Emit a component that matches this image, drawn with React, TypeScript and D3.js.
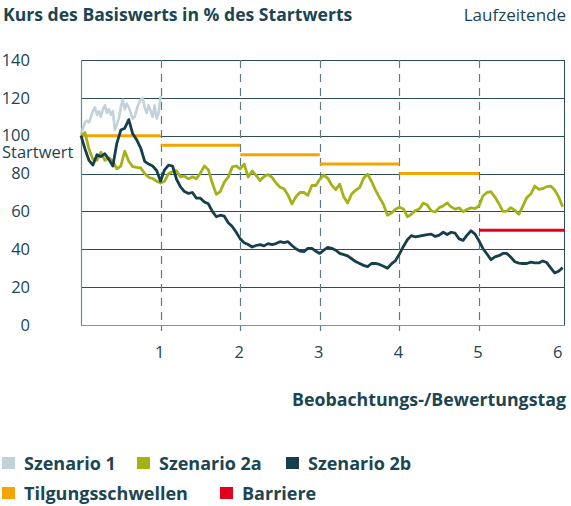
import * as d3 from "d3";

// Tage 0..6 (Beobachtungs-/Bewertungstage), Werte in % des Startwerts
const yTicks = [0, 20, 40, 60, 80, 100, 120, 140];
const xTicks = [1, 2, 3, 4, 5, 6];

// Szenario 1: Schritt 0.025, endet am 1. Beobachtungstag
const szenario1Step = 0.025;
const szenario1 = [
  101, 104, 107, 108, 107, 110, 113, 115, 111, 113, 110, 114, 116, 112, 114, 111, 113, 103, 106, 109,
  115, 119, 114, 117, 115, 112, 109, 110, 114, 117, 119, 120, 115, 112, 116, 113, 110, 116, 109, 112, 121,
];

// Szenario 2a / 2b: Schritt 0.05
const seriesStep = 0.05;
const szenario2a = [
  100, 101.7, 93, 87.5, 87, 91.3, 87, 88.3, 86.6, 82.5, 84, 91.8, 86.5, 83.7, 83.3, 83, 80, 78, 77.4, 76,
  75, 76, 80, 81, 81.5, 78.2, 78.6, 77.2, 78.3, 77.3, 80.2, 84, 82, 75, 69, 70.5, 75.5, 78.1, 83.5, 84,
  82.5, 85, 78.2, 81.4, 79, 76.3, 78.4, 79.5, 78, 75, 72.8, 72, 68.7, 64, 67.8, 70, 70, 68.5, 73.7, 73.7,
  77, 79.2, 77.5, 73.8, 71.5, 74.4, 67.7, 64.5, 69.2, 71.2, 72.6, 77.5, 79.7, 75.8, 71.3, 67.3, 63.7, 58, 59.2, 61.2,
  62.2, 61.3, 57.2, 58.5, 60.5, 61.3, 64.4, 63.4, 60.3, 59.7, 62, 62.9, 64.5, 62.4, 61.2, 61.9, 59.8, 61.1, 61.9, 61.5,
  63, 68.3, 70, 70.4, 67.6, 64.1, 60, 60.2, 62, 60.6, 58.5, 62.8, 67.3, 69.2, 73.4, 71.7, 72, 73.1, 73.4, 71.3,
  67.7, 62.5,
];
const szenario2b = [
  100, 93, 87, 84.5, 90, 89, 90.5, 87.5, 84, 96, 103, 104, 108.5, 101, 97.8, 93.5, 86.5, 85, 84, 81.6,
  76, 82, 84.5, 84, 77, 73, 70.5, 69.5, 70, 67, 67, 65, 64, 60, 57.2, 58, 57.5, 54, 52, 49,
  45.5, 43.5, 42.5, 41.2, 42, 42.5, 41.8, 43, 42.5, 43, 44, 43.5, 44, 42, 40.3, 39, 38.8, 40.5, 40.5, 39,
  37.8, 39.5, 41, 40.5, 39.5, 37.8, 37.2, 36.5, 35, 33.5, 32.5, 31.5, 30.8, 32.5, 32.5, 32, 31, 30, 32.3, 34,
  37.5, 41.5, 45, 47.2, 46.6, 47, 47.4, 47.8, 48, 46.8, 47.5, 49, 47.8, 49, 48.5, 45.5, 44.7, 47.5, 49.8, 48,
  44.5, 40.3, 37.5, 34.5, 36, 36.6, 37.8, 37.8, 35.8, 33.4, 32.7, 32.5, 32.5, 33.2, 32.8, 32.8, 33.8, 33, 30.2, 27.5,
  28.4, 30.3,
];

// Tilgungsschwellen je Beobachtungsperiode, Barriere in der letzten Periode
const tilgungStart = [0, 1, 2, 3, 4];
const tilgungLevel = [100, 95, 90, 85, 80];
const barriereStart = 5;
const barriereEnd = 6.08;
const barriereLevel = 50;

const legendRow1 = ["Szenario 1", "Szenario 2a", "Szenario 2b"];
const legendRow2 = ["Tilgungsschwellen", "Barriere"];

const C_TEXT = "#1c4552";
const C_S1 = "#c3d2d9";
const C_2A = "#a4b218";
const C_2B = "#173f4b";
const C_ORANGE = "#f5a400";
const C_RED = "#e2001a";
const FONT = "'Open Sans', 'Noto Sans', sans-serif";

const W = 571;
const H = 506;
const margin = { left: 81, right: 6, top: 60, bottom: 181 };

export default function App() {
  const x = d3.scaleLinear().domain([0, 6.08]).range([margin.left, W - margin.right]);
  const y = d3.scaleLinear().domain([0, 140]).range([H - margin.bottom, margin.top]);

  const line = d3
    .line<[number, number]>()
    .x((d) => x(d[0]))
    .y((d) => y(d[1]))
    .curve(d3.curveLinear);

  const toPts = (vals: number[], step: number): [number, number][] =>
    vals.map((v, i) => [i * step, v]);

  const x0 = x(0);
  const x1 = x.range()[1];
  const yTop = y(140);
  const yBot = y(0);

  const legendColors1 = [C_S1, C_2A, C_2B];
  const legendX1 = [2, 137, 286];
  const legendColors2 = [C_ORANGE, C_RED];
  const legendX2 = [2, 220];

  return (
    <svg
      width={W}
      height={H}
      style={{ position: "absolute", left: 0, top: 0, fontFamily: FONT }}
    >
      <text x={3} y={21} fill={C_TEXT} fontSize={17.6} fontWeight={700}>
        Kurs des Basiswerts in % des Startwerts
      </text>
      <text x={566} y={21} fill={C_TEXT} fontSize={17} textAnchor="end">
        Laufzeitende
      </text>

      {/* horizontale Gitterlinien */}
      {yTicks.map((t) => (
        <line
          key={"g" + t}
          x1={x0}
          x2={x1}
          y1={Math.round(y(t)) + 0.5}
          y2={Math.round(y(t)) + 0.5}
          stroke={t === 0 ? "#7d97a0" : "#2c4c57"}
          strokeWidth={1}
        />
      ))}
      {/* vertikale Begrenzungen */}
      <line x1={x0 + 0.5} x2={x0 + 0.5} y1={yTop} y2={yBot} stroke="#6f8b95" strokeWidth={1.2} />
      <line x1={x1 - 0.5} x2={x1 - 0.5} y1={yTop} y2={yBot} stroke="#2c4c57" strokeWidth={1} />
      {xTicks
        .filter((t) => t < 6)
        .map((t) => (
          <line
            key={"v" + t}
            x1={Math.round(x(t)) + 0.5}
            x2={Math.round(x(t)) + 0.5}
            y1={yTop}
            y2={yBot + 6}
            stroke="#5d7c87"
            strokeWidth={1.2}
            strokeDasharray="8 6"
          />
        ))}

      {/* Tilgungsschwellen */}
      {tilgungStart.map((s, i) => (
        <line
          key={"t" + i}
          x1={x(s)}
          x2={x(s + 1)}
          y1={y(tilgungLevel[i])}
          y2={y(tilgungLevel[i])}
          stroke={C_ORANGE}
          strokeWidth={3}
        />
      ))}
      <line
        x1={x(barriereStart)}
        x2={x(barriereEnd)}
        y1={y(barriereLevel)}
        y2={y(barriereLevel)}
        stroke={C_RED}
        strokeWidth={3}
      />

      {/* Kursverläufe */}
      <path d={line(toPts(szenario1, szenario1Step)) || ""} fill="none" stroke={C_S1} strokeWidth={2.6} strokeLinejoin="round" />
      <path d={line(toPts(szenario2a, seriesStep)) || ""} fill="none" stroke={C_2A} strokeWidth={2.8} strokeLinejoin="round" />
      <path d={line(toPts(szenario2b, seriesStep)) || ""} fill="none" stroke={C_2B} strokeWidth={2.8} strokeLinejoin="round" />

      {/* Achsenbeschriftungen */}
      {yTicks.map((t) => (
        <text key={"yl" + t} x={30} y={y(t)} dy="0.35em" fill={C_TEXT} fontSize={16.5} textAnchor="end">
          {t}
        </text>
      ))}
      <text x={2} y={158} fill={C_TEXT} fontSize={16.5}>
        Startwert
      </text>
      {xTicks.map((t) => (
        <text key={"xl" + t} x={x(t) - 1} y={358} fill={C_TEXT} fontSize={16.5} textAnchor="middle">
          {t}
        </text>
      ))}
      <text x={566} y={406} fill={C_TEXT} fontSize={17.8} fontWeight={700} textAnchor="end">
        Beobachtungs-/Bewertungstag
      </text>

      {/* Legende */}
      {legendRow1.map((l, i) => (
        <g key={l} transform={`translate(${legendX1[i]},457)`}>
          <rect width={13} height={12} fill={legendColors1[i]} />
          <text x={22} y={12.5} fill={C_TEXT} fontSize={18} fontWeight={700}>
            {l}
          </text>
        </g>
      ))}
      {legendRow2.map((l, i) => (
        <g key={l} transform={`translate(${legendX2[i]},487)`}>
          <rect width={13} height={12} fill={legendColors2[i]} />
          <text x={22} y={12.5} fill={C_TEXT} fontSize={18} fontWeight={700}>
            {l}
          </text>
        </g>
      ))}
    </svg>
  );
}
